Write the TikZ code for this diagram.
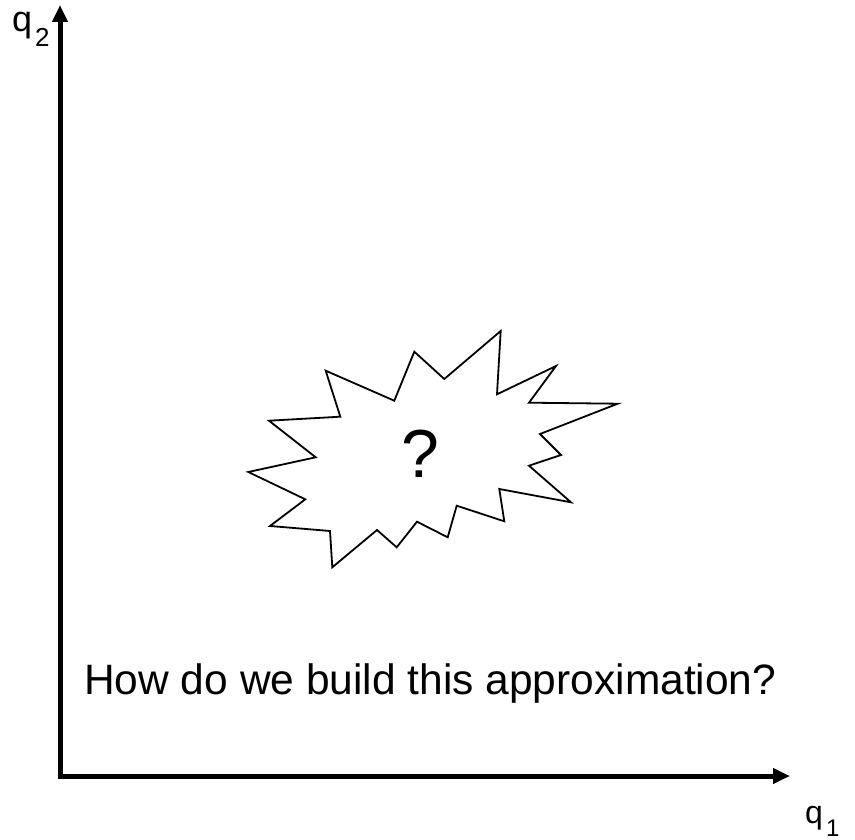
\documentclass[tikz,border=0pt]{standalone}
\usepackage{fontspec}
\setmainfont{Liberation Sans}
\usetikzlibrary{arrows.meta,positioning}

\begin{document}
\begin{tikzpicture}[
  x=1pt, y=-1pt,
  axis/.style={line width=5pt, {Triangle[length=17pt,width=15pt]}-{Triangle[length=17pt,width=15pt]}},
  burst/.style={draw, line width=1.8pt, line join=miter, fill=white},
  axlabel/.style={anchor=base west, inner sep=0pt},
  caption/.style={anchor=base west, inner sep=0pt, font=\fontsize{42.5}{50}\selectfont}
]
\useasboundingbox (0,0) rectangle (855,840);

% Axes
\coordinate (origin) at (60,776);
\coordinate (ytip) at (60,5);
\coordinate (xtip) at (790,776);
\draw[axis] (ytip) -- (origin) -- (xtip);

\node[axlabel, font=\fontsize{36}{40}\selectfont] (q2) at (12,32)
  {q\hspace{3pt}\raisebox{-15pt}{\fontsize{26}{26}\selectfont 2}};
\node[axlabel, font=\fontsize{32}{36}\selectfont] (q1) at (805,823)
  {q\hspace{3pt}\raisebox{-13pt}{\fontsize{24}{24}\selectfont 1}};

% Unknown region
\draw[burst] (325.7,370.7) -- (394.3,400.7) -- (414.3,351.7) -- (444.3,379)
  -- (500.7,331) -- (497,394.3) -- (556,366) -- (529,402.7)
  -- (617.7,403.7) -- (540,434) -- (561,455) -- (529,465.7)
  -- (571,502.3) -- (499.3,489) -- (504.3,521.3) -- (456.7,505.7)
  -- (447.7,537.3) -- (417,521.7) -- (396.7,547.3) -- (377,530)
  -- (332.3,567.3) -- (330,531) -- (270,526) -- (305.3,499.3)
  -- (248.3,472) -- (315.7,457.3) -- (269,420.7) -- (340.3,416.7) -- cycle;
\node[anchor=base, inner sep=0pt, font=\fontsize{68}{76}\selectfont] (unknown) at (420,477) {?};

\node[caption] (question) at (84,694) {How do we build this approximation?};
\end{tikzpicture}
\end{document}
